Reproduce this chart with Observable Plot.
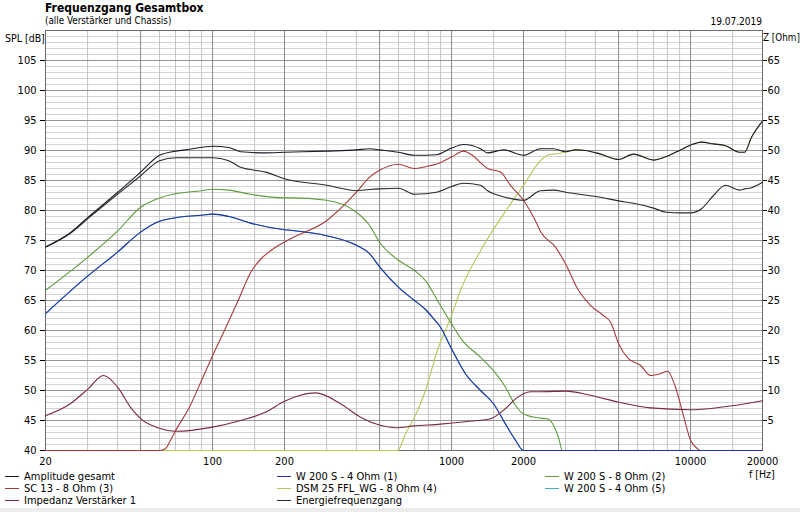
<!DOCTYPE html>
<html><head><meta charset="utf-8">
<script src="https://cdn.jsdelivr.net/npm/d3@7"></script>
<script src="https://cdn.jsdelivr.net/npm/@observablehq/plot@0.6"></script>
<style>
body{margin:0;background:#fff;}
#wrap{position:relative;width:800px;height:512px;overflow:hidden;background:#fff;
 font-family:"DejaVu Sans Condensed","DejaVu Sans",sans-serif;font-stretch:condensed;color:#000;}
.t{position:absolute;white-space:nowrap;font-size:11px;line-height:12px;}
#plot{position:absolute;left:0;top:0;}
.lg{position:absolute;white-space:nowrap;font-size:11px;line-height:12px;}
.lg i{display:inline-block;width:14px;height:1px;vertical-align:middle;margin-right:5px;position:relative;top:-1px;}
#foot{position:absolute;left:0;right:0;bottom:0;height:4px;background:#ececec;}
</style></head><body><div id="wrap"><div id="plot"></div></div>
<script>
// ---- tick values ----
const dbTicks = [40,45,50,55,60,65,70,75,80,85,90,95,100,105];
const ohmTicks = [5,10,15,20,25,30,35,40,45,50,55,60,65];
const freqTicks = [20,50,100,200,500,1000,2000,5000,10000,20000];
const freqMinor = [30,40,60,70,80,90,150,300,400,600,700,800,900,1500,3000,4000,6000,7000,8000,9000,15000];

// ---- series (frequency in Hz, SPL in dB) ----
const gesamtF = [20,25.4,30,40,50,60,70,80,100,117,131,167,200,300,400,454,500,600,700,865,1000,1122,1322,1415,1650,2000,2356,2671,3000,3302,3634,4200,5000,5773,7000,7930,9078,10000,11116,12474,14000,16030,16817,17990,20000];
const gesamtDb = [73.9,76.3,78.8,83.0,86.4,89.2,89.9,90.2,90.7,90.5,89.8,89.6,89.7,89.9,90.1,90.3,90.1,89.7,89.2,89.3,90.4,91.0,90.3,89.6,90.1,89.2,90.3,90.3,89.8,90.1,90.0,89.4,88.5,89.4,88.4,89.0,90.1,90.9,91.4,91.1,90.8,89.7,89.7,92.2,94.9];

const energieF = [20,25.4,30,40,50,60,70,100,117,131,167,200,300,400,454,500,600,700,865,1000,1122,1322,1415,1650,2000,2356,2671,3000,3302,4200,5000,5773,7000,7930,9078,10000,11116,12474,14000,16030,16817,17990,20000];
const energieDb = [73.9,76.2,78.6,82.7,85.8,88.3,88.8,88.8,88.3,87.2,86.4,85.3,84.2,83.3,83.5,83.6,83.7,82.7,83.05,84.0,84.55,84.2,83.3,82.3,81.7,83.3,83.4,83.05,82.8,82.2,81.6,81.2,80.4,79.7,79.6,79.6,80.3,82.5,84.2,83.4,83.6,83.8,84.7];

const w4F = [20,30,40,50,60,70,90,100,117,144,200,212,300,400,454,500,600,700,778,832,899,1000,1143,1322,1498,1682,1852,2000,20000];
const w4Db = [62.8,69.05,73.05,76.4,78.2,78.8,79.2,79.4,79.0,77.9,76.8,76.7,75.8,74.2,72.8,70.6,67.2,65.0,63.5,62.2,60.55,56.95,52.8,50.0,47.8,44.4,41.7,40.0,40.0];

const w8F = [20,30,40,50,60,70,90,100,117,144,200,212,300,400,454,500,600,700,778,873,1000,1111,1322,1498,1682,1852,2000,2356,2520,2645,2800,2913,20000];
const w8Db = [66.7,72.2,76.55,80.55,82.1,82.8,83.3,83.55,83.4,82.7,82.1,82.1,81.7,79.7,77.5,74.7,71.7,70.0,68.3,65.0,61.1,58.3,55.55,53.3,50.55,47.5,46.1,45.4,45.3,44.5,42.2,40.0,40.0];

const scF = [20,60,63.5,66.7,70,80,90,100,113,128,144,160,175,212,300,400,454,500,600,700,778,873,1000,1122,1200,1415,1603,1764,2000,2244,2356,2722,3000,3396,3812,4323,4624,5000,5498,6174,6796,7486,8010,8650,9340,10000,10692,11006,20000];
const scDb = [40,40,40.3,41.7,43.3,47.2,51.7,55.8,60.3,65.0,69.6,72.0,73.3,75.3,78.3,83.05,85.55,86.7,87.7,87.0,87.3,87.8,88.9,89.9,89.4,87.0,86.4,84.2,81.7,78.3,76.5,73.9,71.1,66.7,64.2,62.5,61.4,57.8,55.3,54.2,52.5,52.8,53.2,50.55,45.8,41.7,40.3,40.0,40.0];

const dsmF = [20,594,642,700,778,873,1000,1090,1322,1650,2000,2356,2545,2671,3000,3302,3634,4200,5000,5773,7000,7930,9078,10000,11116,12474,14000,16030,16817,17990,20000];
const dsmDb = [40,40,42.8,45.55,50.0,56.7,62.5,66.7,73.3,79.4,84.2,88.3,89.3,89.4,89.7,90.1,90.0,89.4,88.5,89.4,88.4,89.0,90.1,90.9,91.4,91.1,90.8,89.7,89.7,92.2,94.9];

const w4bF = w4F;
const w4bDb = w4Db;

// impedance (Ohm, right axis)
const impF = [20,25.4,30,35,40,45.4,50,60,70,100,131,167,200,233,270,343,416,504,583,700,899,1143,1456,1682,1852,2138,2356,3000,3812,5000,6796,10000,13340,20000];
const impOhm = [5.8,7.8,10.2,12.5,10.6,7.2,5.3,3.7,3.2,3.9,5.0,6.4,8.2,9.2,9.6,7.8,5.55,4.2,3.8,4.1,4.4,4.8,5.3,7.0,8.6,9.8,9.8,9.9,9.2,8.05,7.1,6.8,7.2,8.3];

const names = ["Amplitude gesamt","W 200 S - 4 Ohm (1)","W 200 S - 8 Ohm (2)","SC 13 - 8 Ohm (3)","DSM 25 FFL_WG - 8 Ohm (4)","W 200 S - 4 Ohm (5)","Impedanz Verstärker 1","Energiefrequenzgang"];
const colors = ["#1c1c2a","#2233a0","#5d9c3c","#a83a3a","#b4c85a","#4aa8d0","#7a2a3c","#2a2a2a"];

// ---- build table ----
const ohmToDb = z => z + 40; // right axis: 0 Ohm at 40 dB, 1 Ohm per dB
const series = [
  {name: names[5], f: w4bF, v: w4bDb},
  {name: names[4], f: dsmF, v: dsmDb},
  {name: names[3], f: scF, v: scDb},
  {name: names[2], f: w8F, v: w8Db},
  {name: names[1], f: w4F, v: w4Db},
  {name: names[6], f: impF, v: impOhm.map(ohmToDb)},
  {name: names[7], f: energieF, v: energieDb},
  {name: names[0], f: gesamtF, v: gesamtDb}
];
const colorOf = Object.fromEntries(names.map((n,i)=>[n,colors[i]]));
const dbMinor = d3.range(41,110).filter(d => d % 5 !== 0);
const dbMajor = d3.range(45,110,5);

const marks = [
  Plot.ruleY(dbMinor, {stroke:"#d4d4d4", strokeWidth:1}),
  Plot.ruleX(freqMinor, {stroke:"#c4c4c4", strokeWidth:1}),
  Plot.ruleY(dbMajor, {stroke:"#959595", strokeWidth:1}),
  Plot.ruleX(freqTicks.slice(1,-1), {stroke:"#8a8a8a", strokeWidth:1}),
  Plot.frame({stroke:"#6a6a6a"}),
  ...series.map(s => Plot.line(s.f.map((f,i)=>({f, v:s.v[i]})), {x:"f", y:"v", stroke: colorOf[s.name], strokeWidth:1.1, curve:"monotone-x"})),
  Plot.axisY({anchor:"left", ticks: dbTicks, tickSize:5, tickPadding:4, label:null, fontSize:11}),
  Plot.axisY({anchor:"right", ticks: ohmTicks.map(ohmToDb), tickFormat: d => String(d-40), tickSize:4, tickPadding:1, label:null, fontSize:11}),
  Plot.axisX({ticks: freqTicks, tickFormat: d => String(d), tickSize:0, tickPadding:7, label:null, fontSize:11})
];

const chart = Plot.plot({
  width: 800, height: 512,
  marginLeft: 45, marginRight: 38, marginTop: 30, marginBottom: 62,
  x: {type:"log", domain:[20,20000]},
  y: {domain:[40,110]},
  style: {fontFamily:'"DejaVu Sans Condensed","DejaVu Sans",sans-serif', fontSize:"11px", background:"transparent", color:"#000"},
  marks
});
document.getElementById("plot").appendChild(chart);

const wrap = document.getElementById("wrap");
function addText(txt, css){ const d=document.createElement("div"); d.className="t"; d.textContent=txt; Object.assign(d.style, css); wrap.appendChild(d); return d; }
addText("Frequenzgang Gesamtbox", {left:"45px", top:"1px", fontSize:"12px", fontWeight:"bold", lineHeight:"14px"});
addText("(alle Verstärker und Chassis)", {left:"45px", top:"15px", fontSize:"9.8px"});
addText("19.07.2019", {right:"38px", top:"16px", fontSize:"10px"});
addText("SPL [dB]", {left:"5px", top:"32px", fontSize:"10.5px"});
addText("Z [Ohm]", {left:"763px", top:"32px", fontSize:"9.8px"});
addText("f [Hz]", {left:"749px", top:"468px", fontSize:"10.5px"});

// legend
const legendOrder = [
  [names[0], names[1], names[2]],
  [names[3], names[4], names[5]],
  [names[6], names[7]]
];
const colX = [5, 277, 545];
legendOrder.forEach((row, r) => row.forEach((n, c) => {
  const d = document.createElement("div"); d.className="lg";
  d.style.left = colX[c] + "px"; d.style.top = (471 + r*12) + "px";
  const sw = document.createElement("i"); sw.style.background = colorOf[n];
  d.appendChild(sw); d.appendChild(document.createTextNode(n)); wrap.appendChild(d);
}));
const foot = document.createElement("div"); foot.id="foot"; wrap.appendChild(foot);
</script></body></html>
